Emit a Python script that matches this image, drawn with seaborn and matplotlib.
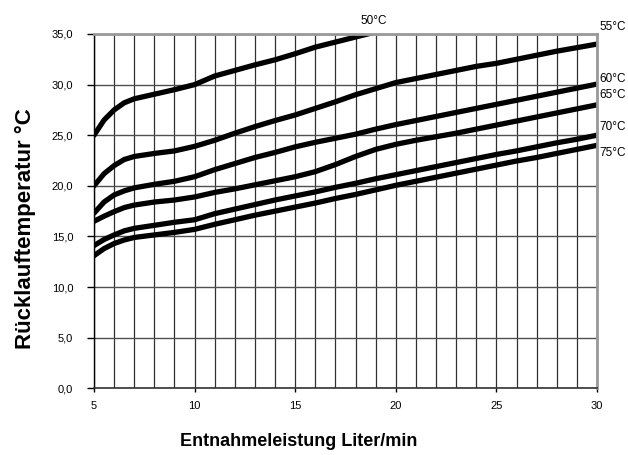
import numpy as np
import pandas as pd
import matplotlib
matplotlib.use("Agg")
import matplotlib.pyplot as plt
import seaborn as sns
from matplotlib.ticker import FuncFormatter, MultipleLocator

# flow rate (Liter/min)
flow = [5, 5.5, 6, 6.5, 7, 8, 9, 10, 11, 12, 13, 14, 15, 16, 17, 18,
        19, 20, 21, 22, 23, 24, 25, 26, 27, 28, 29, 30]
flow_50 = flow[:17]

# return temperature per supply temperature
t50 = [25.0, 26.5, 27.5, 28.2, 28.6, 29.05, 29.5, 30.0, 30.85, 31.4, 31.95,
       32.45, 33.05, 33.7, 34.2, 34.7, 35.2]
t55 = [20.0, 21.2, 22.0, 22.6, 22.9, 23.2, 23.45, 23.9, 24.5, 25.2, 25.85,
       26.45, 27.0, 27.65, 28.3, 29.0, 29.6, 30.2, 30.6, 31.0, 31.4, 31.8,
       32.1, 32.5, 32.9, 33.3, 33.65, 34.0]
t60 = [17.3, 18.4, 19.1, 19.5, 19.8, 20.15, 20.45, 20.9, 21.6, 22.2, 22.8,
       23.3, 23.85, 24.3, 24.7, 25.1, 25.6, 26.05, 26.45, 26.85, 27.25,
       27.65, 28.05, 28.45, 28.85, 29.25, 29.65, 30.05]
t65 = [16.5, 17.0, 17.45, 17.85, 18.1, 18.4, 18.6, 18.9, 19.35, 19.7, 20.1,
       20.5, 20.9, 21.4, 22.1, 22.9, 23.6, 24.1, 24.5, 24.85, 25.2, 25.6,
       26.0, 26.4, 26.8, 27.2, 27.6, 28.0]
t70 = [14.1, 14.7, 15.15, 15.55, 15.8, 16.1, 16.4, 16.65, 17.25, 17.7, 18.15,
       18.6, 19.0, 19.4, 19.85, 20.25, 20.7, 21.1, 21.5, 21.9, 22.3, 22.7,
       23.1, 23.45, 23.85, 24.25, 24.6, 25.0]
t75 = [13.1, 13.8, 14.3, 14.65, 14.9, 15.15, 15.4, 15.7, 16.2, 16.65, 17.1,
       17.5, 17.9, 18.3, 18.75, 19.15, 19.6, 20.05, 20.45, 20.85, 21.25,
       21.65, 22.05, 22.45, 22.8, 23.2, 23.6, 24.0]

labels = ["50°C", "55°C", "60°C", "65°C", "70°C", "75°C"]

sns.set_theme(style="white")
plt.rcParams['font.family'] = ['Liberation Sans', 'DejaVu Sans']
for key in ['text.color', 'axes.labelcolor', 'xtick.color', 'ytick.color']:
    plt.rcParams[key] = 'black'

fig = plt.figure(figsize=(6.28, 4.55), dpi=100)
ax = fig.add_axes([0.1497, 0.1466, 0.8009, 0.7787])

# grid first so the curves sit on top
ax.set_xlim(5, 30)
ax.set_ylim(0, 35)
ax.xaxis.set_major_locator(MultipleLocator(5))
ax.xaxis.set_minor_locator(MultipleLocator(1))
ax.yaxis.set_major_locator(MultipleLocator(5))
ax.grid(True, which='both', axis='x', color='#303030', lw=0.9)
ax.grid(True, which='major', axis='y', color='#505050', lw=1.0)
ax.set_axisbelow(True)

series = [(flow_50, t50), (flow, t55), (flow, t60), (flow, t65), (flow, t70), (flow, t75)]
for (xs, ys), lab in zip(series, labels):
    sns.lineplot(x=xs, y=ys, ax=ax, color='black', lw=3.8, legend=False)

# curve labels
ax.text(18.9, 36.3, labels[0], ha='center', va='center', fontsize=8.5, clip_on=False)
label_y = [35.7, 30.6, 29.0, 25.8, 23.2]
for lab, yy in zip(labels[1:], label_y):
    ax.text(30.1, yy, lab, ha='left', va='center', fontsize=8.5, clip_on=False)

ax.yaxis.set_major_formatter(FuncFormatter(lambda v, p: f"{v:.1f}".replace('.', ',')))
ax.tick_params(axis='both', which='major', labelsize=8, width=1,
               color='black', labelcolor='black', direction='out',
               left=True, bottom=True)
ax.tick_params(axis='y', which='major', length=5, pad=10)
ax.tick_params(axis='x', which='major', length=3, pad=6)
ax.tick_params(axis='x', which='minor', length=0)

for side in ['top', 'right']:
    ax.spines[side].set_color('#999999')
    ax.spines[side].set_linewidth(2)
ax.spines['left'].set_color('black')
ax.spines['left'].set_linewidth(1)
ax.spines['bottom'].set_color('#333333')
ax.spines['bottom'].set_linewidth(1.2)

ax.set_xlabel("Entnahmeleistung Liter/min", fontsize=13, fontweight='bold')
ax.set_ylabel("Rücklauftemperatur °C", fontsize=16, fontweight='bold')
ax.xaxis.set_label_coords(0.4076, -0.151)
ax.xaxis.label.set_va('center')
ax.yaxis.set_label_coords(-0.137, 0.452)
ax.yaxis.label.set_va('center')

fig.savefig("out.png", dpi=100)
